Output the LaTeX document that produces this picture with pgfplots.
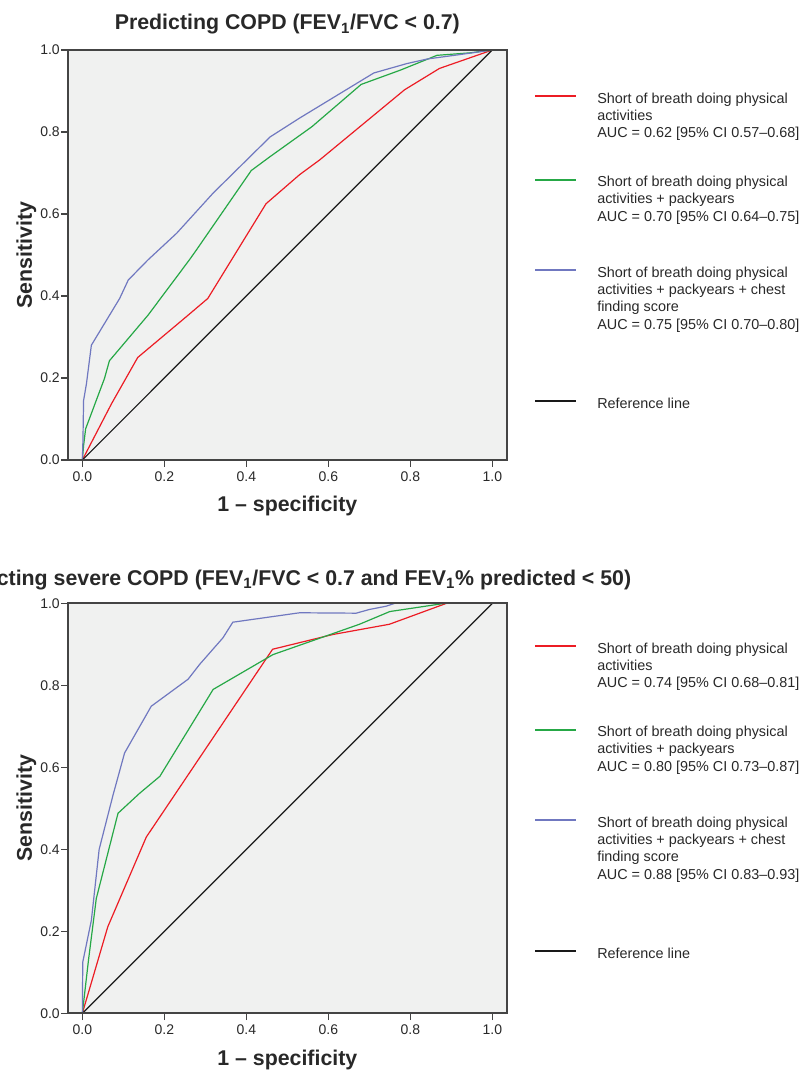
\documentclass[border=0pt]{standalone}
\usepackage{fontspec}
\setmainfont{Liberation Sans}
\usepackage{pgfplots}
\pgfplotsset{compat=1.18}

\definecolor{rocred}{RGB}{236,28,36}
\definecolor{rocgreen}{RGB}{38,168,70}
\definecolor{rocblue}{RGB}{112,120,192}
\definecolor{panelbg}{RGB}{240,241,240}
\definecolor{framegray}{RGB}{68,68,68}
\definecolor{txt}{RGB}{40,40,40}

\pgfplotsset{
  rocpanel/.style={
    scale only axis, width=329pt, height=307.5pt,
    xmin=-0.035, xmax=1.035, ymin=0, ymax=1,
    xtick={0,0.2,0.4,0.6,0.8,1}, ytick={0,0.2,0.4,0.6,0.8,1},
    xtick pos=left, ytick pos=left,
    tick align=outside, major tick length=5pt,
    tick style={framegray, line width=1pt},
    axis line style={framegray, line width=1.3pt},
    axis background/.style={fill=panelbg},
    axis on top,
    /pgf/number format/assume math mode=true,
    /pgf/number format/fixed,
    /pgf/number format/fixed zerofill,
    /pgf/number format/precision=1,
    ticklabel style={font=\fontsize{10.5}{12}\selectfont, text=txt},
    yticklabel style={inner xsep=1pt},
    title style={font=\fontsize{16}{19}\selectfont\bfseries, text=txt,
      at={(axis description cs:0.5,1)}, anchor=base},
    xlabel={1 – specificity},
    xlabel style={font=\fontsize{16}{19}\selectfont\bfseries, text=txt,
      at={(axis description cs:0.5,0)}, anchor=base, yshift=-38.8pt},
    ylabel={Sensitivity},
    ylabel style={font=\fontsize{16}{19}\selectfont\bfseries, text=txt,
      at={(axis description cs:-0.0826,0.5)}, anchor=base},
    every axis plot/.append style={line width=0.9pt},
  }
}

% legend: one key line and the text lines below it (scope units are pixels)
\tikzset{lg/.style={anchor=base west, inner sep=0pt,
  font=\fontsize{10.8}{13}\selectfont, text=txt}}
\newcommand{\legkey}[2]{\draw[#1, line width=1pt] (535,#2) -- (576,#2);}

\begin{document}
\begin{tikzpicture}

\begin{axis}[rocpanel, at={(51pt,-37.5pt)}, anchor=north west,
  title={Predicting COPD (FEV\textsubscript{1}/FVC < 0.7)},
  title style={yshift=9pt}]
\addplot[rocred] coordinates {
  (0,0) (0.071,0.137) (0.135,0.25) (0.253,0.349) (0.306,0.394)
  (0.448,0.625) (0.53,0.696) (0.579,0.732)
  (0.786,0.903) (0.871,0.955) (1,1)};
\addplot[rocgreen] coordinates {
  (0,0) (0.003,0.035) (0.008,0.076) (0.054,0.199) (0.066,0.242)
  (0.16,0.353) (0.261,0.488) (0.278,0.512) (0.412,0.706) (0.458,0.74)
  (0.56,0.813) (0.68,0.916) (0.776,0.951) (0.865,0.987) (0.945,0.993) (1,1)};
\addplot[rocblue] coordinates {
  (0,0) (0.0015,0.049) (0.003,0.145) (0.01,0.186) (0.022,0.28)
  (0.091,0.394) (0.112,0.439) (0.16,0.488) (0.23,0.553) (0.319,0.651)
  (0.389,0.72) (0.458,0.788) (0.53,0.834) (0.711,0.944) (0.792,0.967)
  (0.841,0.978) (0.922,0.989) (1,1)};
\addplot[black!90] coordinates {(0,0) (1,1)};
\end{axis}

\begin{axis}[rocpanel, at={(51pt,-452.5pt)}, anchor=north west,
  title={Predicting severe COPD (FEV\textsubscript{1}/FVC < 0.7 and FEV\textsubscript{1}\% predicted < 50)},
  title style={yshift=7.75pt}]
\addplot[rocred] coordinates {
  (0,0) (0.062,0.211) (0.156,0.43) (0.464,0.888) (0.611,0.924)
  (0.749,0.949) (0.888,1) (1,1)};
\addplot[rocgreen] coordinates {
  (0,0) (0.015,0.13) (0.034,0.28) (0.087,0.488) (0.14,0.537) (0.189,0.578)
  (0.319,0.79) (0.465,0.875) (0.676,0.949) (0.75,0.98) (0.884,1) (1,1)};
\addplot[rocblue] coordinates {
  (0,0) (0.001,0.125) (0.022,0.227) (0.041,0.4) (0.075,0.533)
  (0.103,0.635) (0.168,0.749) (0.258,0.815) (0.286,0.851) (0.343,0.916)
  (0.367,0.954) (0.53,0.977) (0.668,0.976) (0.70,0.985) (0.741,0.993)
  (0.762,1) (1,1)};
\addplot[black!90] coordinates {(0,0) (1,1)};
\end{axis}

\begin{scope}[x=0.75pt, y=-0.75pt]
  % top legend
  \legkey{rocred}{96}
  \node[lg] at (597,103.3) {Short of breath doing physical};
  \node[lg] at (597,120.6) {activities};
  \node[lg] at (597,137.9) {AUC = 0.62 [95\% CI 0.57–0.68]};
  \legkey{rocgreen}{180}
  \node[lg] at (597,186.7) {Short of breath doing physical};
  \node[lg] at (597,204.0) {activities + packyears};
  \node[lg] at (597,221.3) {AUC = 0.70 [95\% CI 0.64–0.75]};
  \legkey{rocblue}{270}
  \node[lg] at (597,277.3) {Short of breath doing physical};
  \node[lg] at (597,294.6) {activities + packyears + chest};
  \node[lg] at (597,311.9) {finding score};
  \node[lg] at (597,329.2) {AUC = 0.75 [95\% CI 0.70–0.80]};
  \legkey{black!90}{401}
  \node[lg] at (597,408.0) {Reference line};
  % bottom legend
  \legkey{rocred}{646}
  \node[lg] at (597,653.3) {Short of breath doing physical};
  \node[lg] at (597,670.6) {activities};
  \node[lg] at (597,687.9) {AUC = 0.74 [95\% CI 0.68–0.81]};
  \legkey{rocgreen}{730}
  \node[lg] at (597,736.6) {Short of breath doing physical};
  \node[lg] at (597,753.9) {activities + packyears};
  \node[lg] at (597,771.2) {AUC = 0.80 [95\% CI 0.73–0.87]};
  \legkey{rocblue}{820}
  \node[lg] at (597,827.3) {Short of breath doing physical};
  \node[lg] at (597,844.6) {activities + packyears + chest};
  \node[lg] at (597,861.9) {finding score};
  \node[lg] at (597,879.2) {AUC = 0.88 [95\% CI 0.83–0.93]};
  \legkey{black!90}{951}
  \node[lg] at (597,958.3) {Reference line};
\end{scope}

\pgfresetboundingbox
\path[use as bounding box] (0pt,0pt) rectangle (599.25pt,-802.5pt);
\end{tikzpicture}
\end{document}
